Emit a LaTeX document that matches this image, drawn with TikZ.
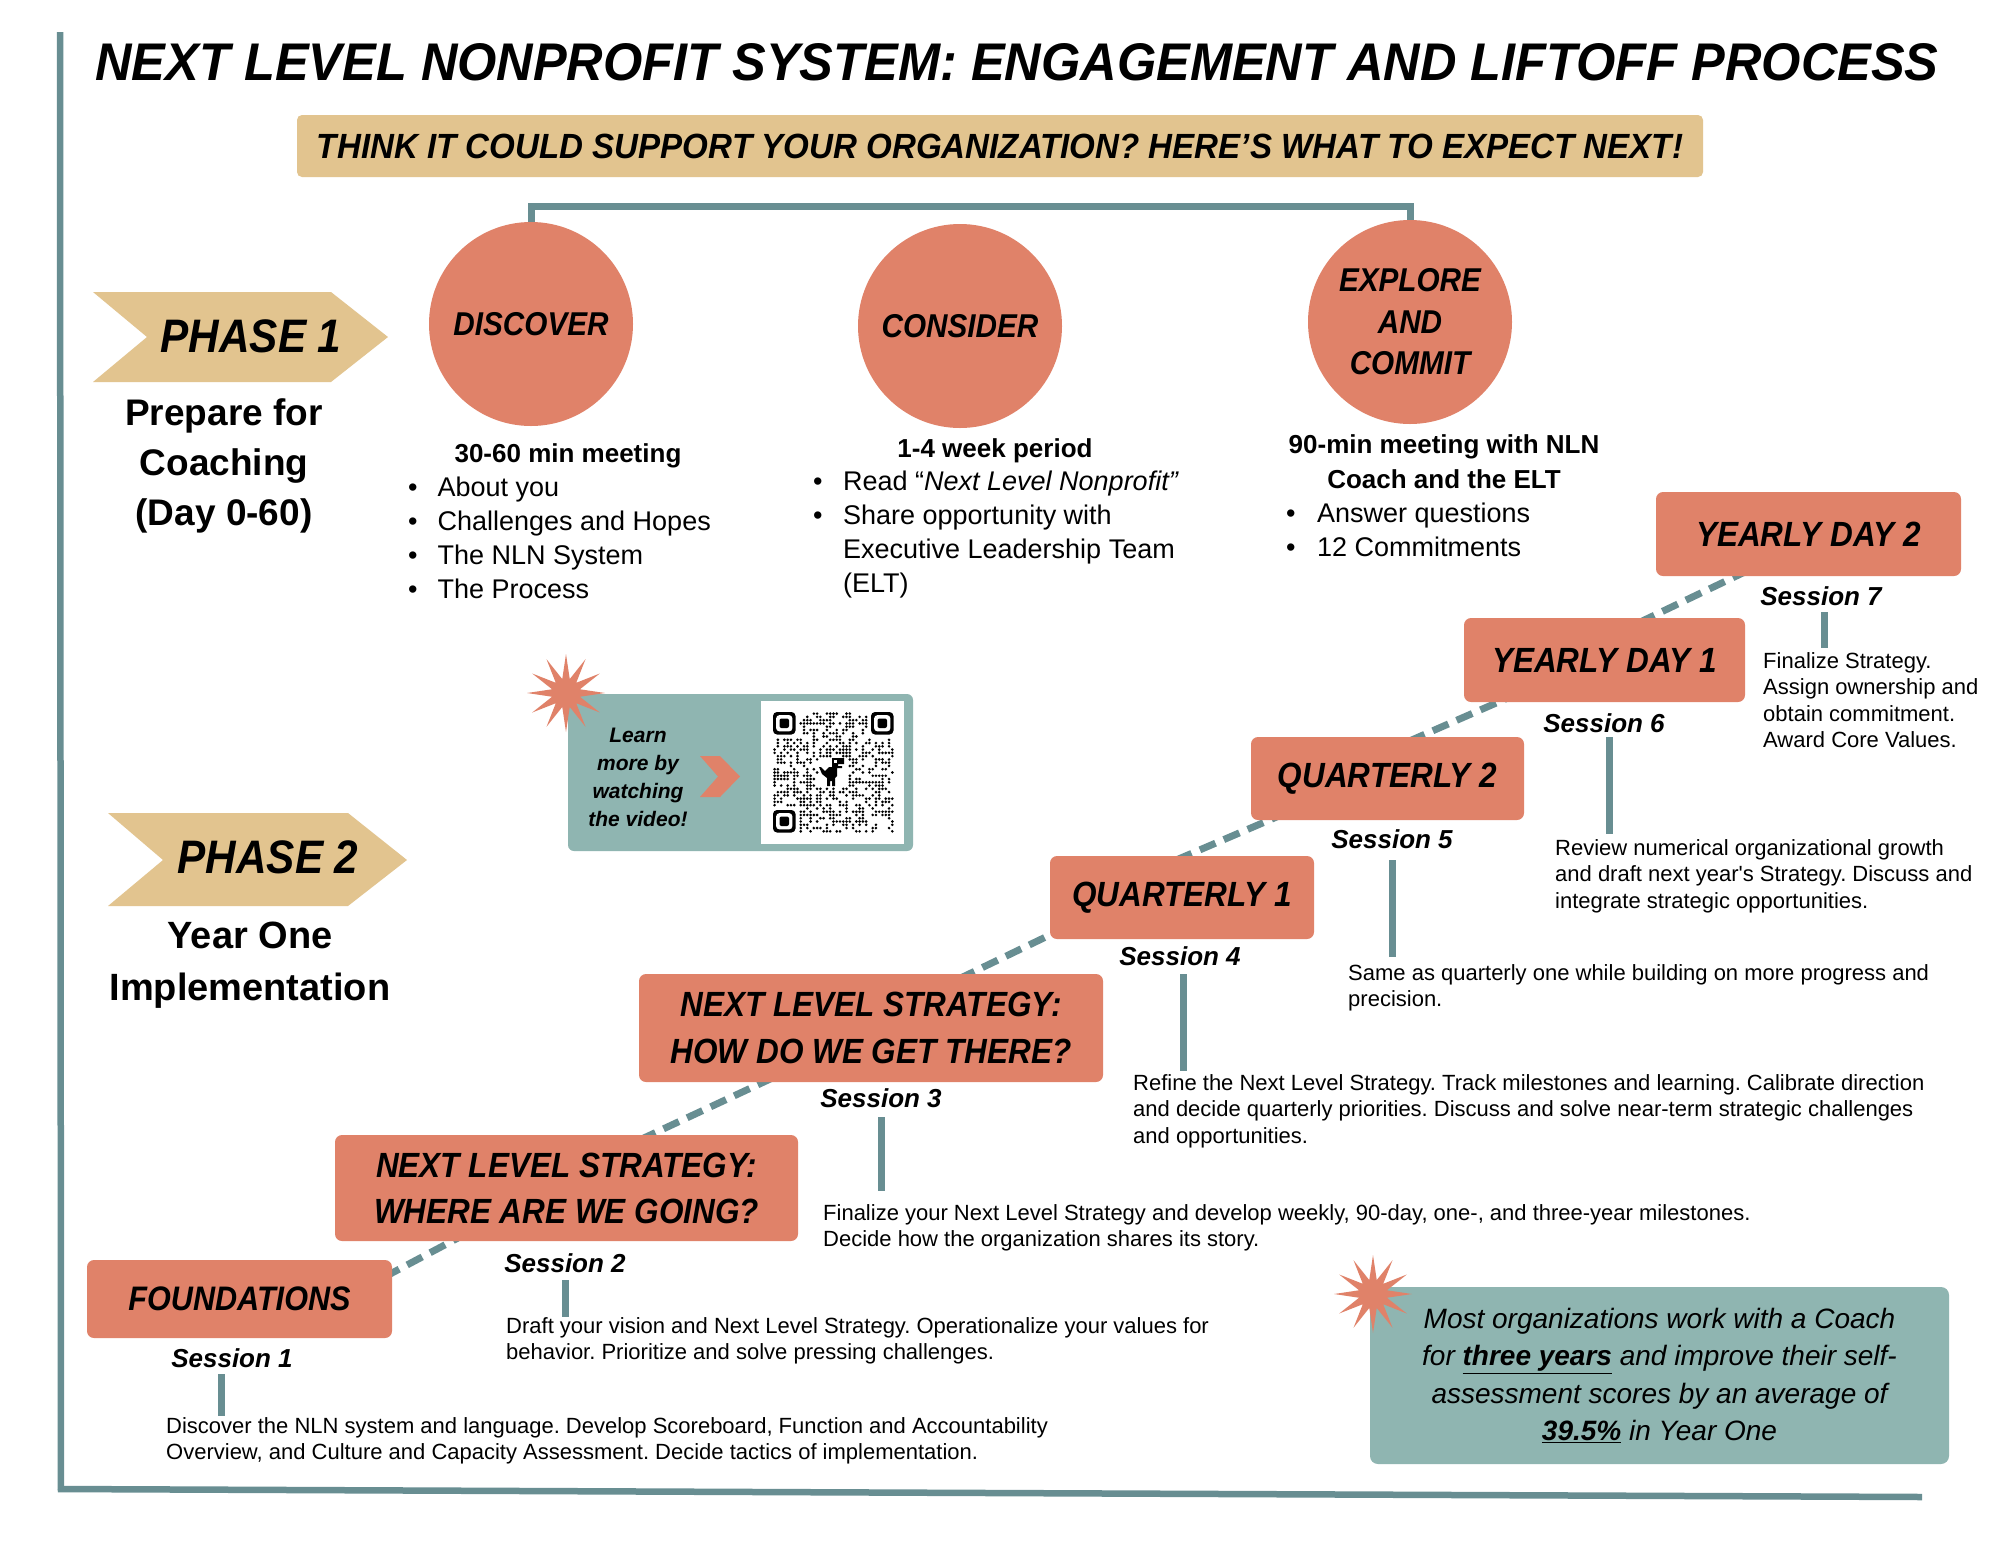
\documentclass[tikz,border=0pt]{standalone}
\usepackage{fontspec}
\usepackage{graphicx}
\setmainfont{Liberation Sans}
\newfontfamily\hdfnt[FakeStretch=0.9]{Liberation Sans}
\newfontfamily\bdfnt{Liberation Sans}
\usetikzlibrary{shapes.geometric,calc,backgrounds}
\definecolor{salmon}{HTML}{E08269}
\definecolor{tanc}{HTML}{E2C48F}
\definecolor{tealline}{HTML}{688E92}
\definecolor{tealbox}{HTML}{8FB5B1}
\newcommand{\fsz}[2]{\fontsize{#1}{#2}\selectfont}
\frenchspacing
\begin{document}
\begin{tikzpicture}[x=1pt,y=-1pt,
  box/.style={fill=salmon, rounded corners=7, inner sep=0, align=center, font=\hdfnt\bfseries\itshape\fsz{35}{46}},
  circ/.style={circle, fill=salmon, minimum size=204, inner sep=0, align=center, font=\hdfnt\bfseries\itshape\fsz{33}{41.5}},
  sess/.style={font=\bdfnt\bfseries\itshape\fsz{26}{30}, inner sep=0, anchor=base},
  desc/.style={font=\bdfnt\frenchspacing\fsz{22}{26.6}, inner sep=0, anchor=north west, align=left},
  hdr/.style={font=\bdfnt\bfseries\fsz{26}{35}, inner sep=0, align=center},
  blist/.style={font=\bdfnt\fsz{27}{34}, inner sep=0, anchor=north west},
  bar/.style={draw=tealline, line width=7},
  dashline/.style={draw=tealline, line width=7, dash pattern=on 17 off 9},
  phase/.style={font=\hdfnt\bfseries\itshape\fsz{47}{50}, inner sep=0, anchor=base},
  burst/.style={star, star points=12, star point ratio=2.7, minimum size=78, fill=salmon, inner sep=0},
  frame/.style={draw=tealline, line width=6.5}
]
\useasboundingbox (0,0) rectangle (2000,1545);
\begin{pgfonlayer}{background}
\fill[white] (0,0) rectangle (2000,1545);
\end{pgfonlayer}

% frame
\draw[frame] (60,32) -- (61,1491);
\draw[frame] (58,1489) -- (1922,1497);

% title and banner
\node[anchor=base, inner sep=0] (title) at (1017,80) {\resizebox{1843pt}{\height}{\bdfnt\bfseries\itshape\fsz{53}{60}NEXT LEVEL NONPROFIT SYSTEM: ENGAGEMENT AND LIFTOFF PROCESS}};
\node[fill=tanc, rounded corners=5, minimum width=1406, minimum height=62, inner sep=0] (banner) at (1000,146)
  {\resizebox{1366pt}{\height}{\bdfnt\bfseries\itshape\fsz{35}{40}THINK IT COULD SUPPORT YOUR ORGANIZATION? HERE’S WHAT TO EXPECT NEXT!}};

% phase chevrons
\fill[tanc] (93,292) -- (331,292) -- (388,337) -- (331,382) -- (93,382) -- (147,337) -- cycle;
\node[phase] (ph1) at (251,352) {PHASE 1};
\node[anchor=north, inner sep=0, align=center, font=\bdfnt\bfseries\fsz{37}{50}] (ph1t) at (224,398) {Prepare for\\Coaching\\(Day 0-60)};
\fill[tanc] (108,813) -- (348,813) -- (407,860) -- (348,906) -- (108,906) -- (163,860) -- cycle;
\node[phase] (ph2) at (268,873) {PHASE 2};
\node[anchor=north, inner sep=0, align=center, font=\bdfnt\bfseries\fsz{38}{52}] (ph2t) at (250,922) {Year One\\Implementation};

% circles
\node[circ] (disc) at (531,324) {DISCOVER};
\node[circ] (cons) at (960,326) {CONSIDER};
\node[circ] (expl) at (1410,322) {EXPLORE\\AND\\COMMIT};
\begin{pgfonlayer}{background}
\draw[tealline, line width=7] (disc.north) -- ++(0,-15) -| (expl.north);
\end{pgfonlayer}

% lists
\node[hdr, anchor=base] (dh) at (568,462) {30-60 min meeting};
\node[blist] (dl) at (408,472.2) {\begin{tabular}{@{}l@{\hspace{20pt}}l@{}}•&About you\\•&Challenges and Hopes\\•&The NLN System\\•&The Process\end{tabular}};
\node[hdr, anchor=base] (ch) at (995,457) {1-4 week period};
\node[blist] (cl) at (813,466.2) {\begin{tabular}{@{}l@{\hspace{20.5pt}}l@{}}•&Read “\textit{Next Level Nonprofit”}\\•&Share opportunity with\\&Executive Leadership Team\\&(ELT)\end{tabular}};
\node[hdr, anchor=north] (eh) at (1444,434.4) {90-min meeting with NLN\\Coach and the ELT};
\node[blist] (el) at (1286,498.2) {\begin{tabular}{@{}l@{\hspace{21.5pt}}l@{}}•&Answer questions\\•&12 Commitments\end{tabular}};

% QR box
\node[fill=tealbox, rounded corners=6, minimum width=345, minimum height=157, inner sep=0] (qr) at (740.5,772.5) {};
\fill[white] (761,701) rectangle (904,844);
\foreach \fx/\fy in {773/712, 871/712, 773/810} {
  \fill[black, rounded corners=4] (\fx,\fy) rectangle ++(22.5,22.5);
  \fill[white, rounded corners=3] (\fx+3.2,\fy+3.2) rectangle ++(16.1,16.1);
  \fill[black, rounded corners=2] (\fx+6.5,\fy+6.5) rectangle ++(9.5,9.5);
}
\pgfmathsetseed{42}
\foreach \i in {0,...,36}{
  \foreach \j in {0,...,36}{
    \pgfmathsetmacro{\rv}{rnd}
    \pgfmathtruncatemacro{\sk}{((\i<8)&&(\j<8))||((\i>28)&&(\j<8))||((\i<8)&&(\j>28))||((\i>13)&&(\i<23)&&(\j>13)&&(\j<23))}
    \ifnum\sk=0 \ifdim\rv pt<0.5pt \fill (774.6+\i*3.27,713.6+\j*3.27) circle (1.45); \fi\fi
  }
}
\fill[shift={(819,758)}] (13,0) -- (25,0) -- (25,6) -- (19,6) -- (19,8) -- (23,8) -- (23,10) -- (18,10) -- (18,18) -- (16,20) -- (16,28) -- (13,28) -- (13,23) -- (11,23) -- (11,28) -- (8,28) -- (8,20) -- (3,16) -- (0,9) -- (2,9) -- (6,13) -- (10,9) -- (13,9) -- cycle;
\fill[white] (834,760) rectangle (836.5,762.5);
\fill[salmon] (700,756) -- (720,756) -- (740,776.5) -- (720,797) -- (700,797) -- (718,776.5) -- cycle;
\node[align=center, inner sep=0, font=\bdfnt\bfseries\itshape\fsz{21}{28}] (learn) at (638,777) {Learn\\more by\\watching\\the video!};
\node[burst] (star1) at (566,693) {};

% session boxes
\node[box, minimum width=305, minimum height=78, font=\hdfnt\bfseries\itshape\fsz{34}{46}] (found) at (239.5,1299) {FOUNDATIONS};
\node[box, minimum width=463, minimum height=106] (where) at (566.5,1188) {NEXT LEVEL STRATEGY:\\WHERE ARE WE GOING?};
\node[box, minimum width=464, minimum height=108, font=\hdfnt\bfseries\itshape\fsz{35}{47}] (how) at (871,1028) {NEXT LEVEL STRATEGY:\\HOW DO WE GET THERE?};
\node[box, minimum width=264, minimum height=83] (q1) at (1182,897.5) {QUARTERLY 1};
\node[box, minimum width=273, minimum height=83] (q2) at (1387.5,778.5) {QUARTERLY 2};
\node[box, minimum width=281, minimum height=84] (yd1) at (1604.5,660) {YEARLY DAY 1};
\node[box, minimum width=305, minimum height=84] (yd2) at (1808.5,534) {YEARLY DAY 2};

\begin{pgfonlayer}{background}
\draw[dashline] ($(found.north east)+(-8,17.3)$) -- ($(where.south west)+(127,-5.3)$);
\draw[dashline] ($(where.north)+(73.5,5)$) -- ($(how.south)+(-97,-5)$);
\draw[dashline] ($(how.north)+(88,5)$) -- ($(q1.south west)+(10,-9)$);
\draw[dashline] ($(q1.north)+(-6,4.3)$) -- ($(q2.south)+(-108.5,-4.3)$);
\draw[dashline] ($(q2.north)+(21.5,4.4)$) -- ($(yd1.south)+(-96.5,-4.4)$);
\draw[dashline] ($(yd1.north)+(34.5,4.8)$) -- ($(yd2.south)+(-62.5,-4.8)$);
\end{pgfonlayer}

% session labels
\node[sess] (s1) at (232,1367) {Session 1};
\node[sess] (s2) at (565,1272) {Session 2};
\node[sess] (s3) at (881,1107) {Session 3};
\node[sess] (s4) at (1180,965) {Session 4};
\node[sess] (s5) at (1392,848) {Session 5};
\node[sess] (s6) at (1604,732) {Session 6};
\node[sess] (s7) at (1821,605) {Session 7};

% descriptions
\node[desc] (d7) at (1763,652) {Finalize Strategy.\\Assign ownership and\\obtain commitment.\\Award Core Values.};
\node[desc] (d6) at (1555,839) {Review numerical organizational growth\\and draft next year's Strategy. Discuss and\\integrate strategic opportunities.};
\node[desc] (d5) at (1348,964) {Same as quarterly one while building on more progress and\\precision.};
\node[desc] (d4) at (1133,1074) {Refine the Next Level Strategy. Track milestones and learning. Calibrate direction\\and decide quarterly priorities. Discuss and solve near-term strategic challenges\\and opportunities.};
\node[desc] (d3) at (823,1204) {Finalize your Next Level Strategy and develop weekly, 90-day, one-, and three-year milestones.\\Decide how the organization shares its story.};
\node[desc] (d2) at (506,1317) {Draft your vision and Next Level Strategy. Operationalize your values for\\behavior. Prioritize and solve pressing challenges.};
\node[desc] (d1) at (166,1417) {Discover the NLN system and language. Develop Scoreboard, Function and Accountability\\Overview, and Culture and Capacity Assessment. Decide tactics of implementation.};

% bars
\coordinate (b1) at ([xshift=-11]s1.south);
\draw[bar, shorten <=7, shorten >=1] (b1) -- (b1 |- d1.north);
\draw[bar, shorten <=8] (s2.south) -- (s2.south |- d2.north);
\draw[bar, shorten <=10, shorten >=13] (s3.south) -- (s3.south |- d3.north);
\draw[bar, shorten <=9, shorten >=3] ([xshift=3]s4.south) -- ([xshift=3]s4.south |- d4.north);
\draw[bar, shorten <=12, shorten >=7] (s5.south) -- (s5.south |- d5.north);
\draw[bar, shorten <=5, shorten >=5] ([xshift=5]s6.south) -- ([xshift=5]s6.south |- d6.north);
\draw[bar, shorten <=7, shorten >=4] ([xshift=3]s7.south) -- ([xshift=3]s7.south |- d7.north);

% stat box
\node[fill=tealbox, rounded corners=8, minimum width=579, minimum height=177, inner sep=0, align=center, font=\bdfnt\itshape\fsz{28}{37.3}] (stat) at (1659.5,1375.5)
  {Most organizations work with a Coach\\for \underline{\textbf{three years}} and improve their self-\\assessment scores by an average of\\\underline{\textbf{39.5\%}} in Year One};
\node[burst] (star2) at (1373,1294) {};
\end{tikzpicture}
\end{document}
